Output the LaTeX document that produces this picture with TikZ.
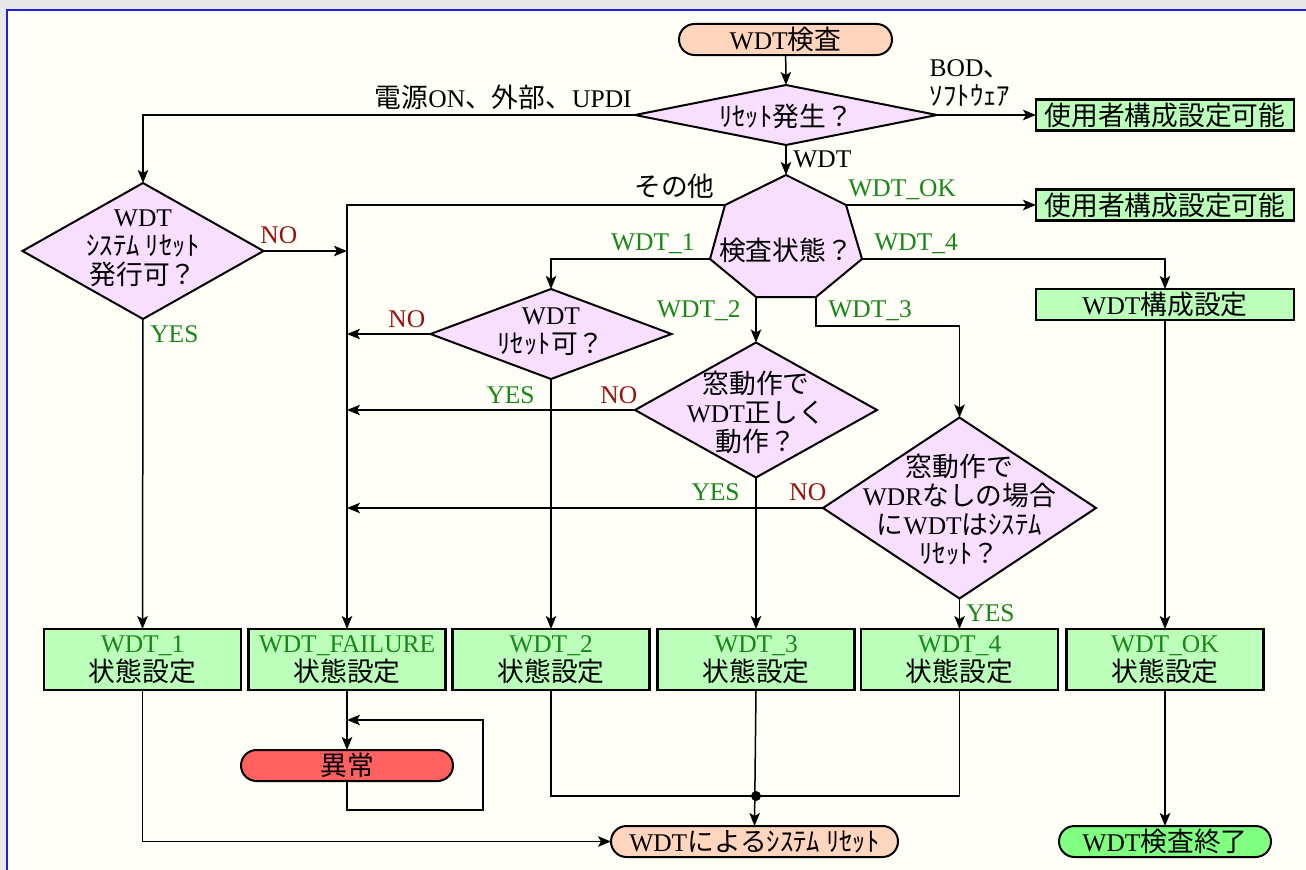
\documentclass[tikz,border=0pt]{standalone}
\usepackage{fontspec}
\setmainfont{Liberation Serif}
\newfontfamily\jf[Scale=1.05]{Noto Sans CJK JP}
\newcommand\J[1]{{\jf #1}}
\usetikzlibrary{arrows.meta,shapes.geometric}
\definecolor{pagegrey}{RGB}{232,232,232}
\definecolor{ivory}{RGB}{255,255,247}
\definecolor{frameblue}{RGB}{30,30,230}
\definecolor{decf}{RGB}{248,222,255}
\definecolor{boxg}{RGB}{187,255,187}
\definecolor{peach}{RGB}{255,213,190}
\definecolor{endg}{RGB}{128,255,128}
\definecolor{abnr}{RGB}{255,96,96}
\definecolor{lgreen}{RGB}{25,135,25}
\definecolor{lred}{RGB}{150,20,20}
\tikzset{
  every node/.style={font=\fontsize{14.5}{16.5}\selectfont},
  term/.style={rectangle, rounded corners=3.1mm, draw, line width=0.4mm, minimum height=6.2mm, inner sep=0pt, outer sep=0pt},
  pbox/.style={rectangle, draw, line width=0.55mm, fill=boxg, inner sep=0pt, outer sep=0pt, align=center},
  dec/.style={diamond, draw, line width=0.4mm, fill=decf, inner sep=0pt, outer sep=0pt},
  txt/.style={align=center, inner sep=0pt},
  arr/.style={-{Stealth[length=2.6mm,width=2.1mm,inset=0.6mm]}, line width=0.3mm},
  ln/.style={line width=0.3mm},
  lg/.style={text=lgreen, inner sep=0pt},
  lr/.style={text=lred, inner sep=0pt},
  lb/.style={inner sep=0pt},
}
\begin{document}
\begin{tikzpicture}[x=0.2mm,y=-0.2mm]
\useasboundingbox (0,0) rectangle (1306,870);
\clip (0,0) rectangle (1306,870);
\fill[pagegrey] (0,0) rectangle (1306,870);
\fill[ivory] (7,10) rectangle (1320,880);
\draw[frameblue, line width=0.4mm] (7,885) -- (7,10) -- (1320,10);

% terminals
\node[term, fill=peach, minimum width=42.6mm] (start) at (785.5,39.5) {WDT\J{検査}};
\node[term, fill=peach, minimum width=57.4mm] (rst) at (754.5,841.5) {WDT\J{によるｼｽﾃﾑ ﾘｾｯﾄ}};
\node[term, fill=endg, minimum width=42.4mm] (fin) at (1165,841.5) {WDT\J{検査終了}};
\node[term, fill=abnr, minimum width=42.4mm] (abn) at (347,765.5) {\J{異常}};

% decisions
\node[dec, minimum width=60.4mm, minimum height=12mm] (d0) at (786,115) {};
\node[txt] (d0t) at (786,116) {\J{ﾘｾｯﾄ発生？}};
\node[dec, minimum width=48.2mm, minimum height=27.2mm] (dL) at (143,251) {};
\node[txt] (dLt) at (143,248) {WDT\\\J{ｼｽﾃﾑ ﾘｾｯﾄ}\\\J{発行可？}};
\node[dec, minimum width=48.2mm, minimum height=18mm] (d1) at (551,334) {};
\node[txt] (d1t) at (551,332) {WDT\\\J{ﾘｾｯﾄ可？}};
\node[dec, minimum width=48.4mm, minimum height=27mm] (d2) at (756,410) {};
\node[txt] (d2t) at (756,412) {\J{窓動作で}\\WDT\J{正しく}\\\J{動作？}};
\node[dec, minimum width=54.6mm, minimum height=36.2mm] (d3) at (959.5,508) {};
\node[txt] (d3t) at (959.5,510) {\J{窓動作で}\\WDR\J{なしの場合}\\\J{に}WDT\J{はｼｽﾃﾑ}\\\J{ﾘｾｯﾄ？}};

% heptagon
\coordinate (hT) at (786,175);
\coordinate (hUR) at (846,205);
\coordinate (hR) at (862,259);
\coordinate (hBR) at (816,297);
\coordinate (hBL) at (756,297);
\coordinate (hL) at (710,259);
\coordinate (hUL) at (725,205);
\draw[line width=0.4mm, fill=decf] (hT)--(hUR)--(hR)--(hBR)--(hBL)--(hL)--(hUL)--cycle;
\node[txt] (hept) at (786,250) {\J{検査状態？}};

% process boxes
\node[pbox, minimum width=51.6mm, minimum height=6.2mm] (u1) at (1165,115) {\J{使用者構成設定可能}};
\node[pbox, minimum width=51.6mm, minimum height=6.2mm] (u2) at (1165,205) {\J{使用者構成設定可能}};
\node[pbox, minimum width=51.6mm, minimum height=6.2mm] (cfg) at (1165,304.5) {WDT\J{構成設定}};
\node[pbox, minimum width=39.4mm, minimum height=12.2mm] (s1) at (142.5,659.5) {\textcolor{lgreen}{WDT\_1}\\\J{状態設定}};
\node[pbox, minimum width=39.4mm, minimum height=12.2mm] (fail) at (347,659.5) {\textcolor{lgreen}{WDT\_FAILURE}\\\J{状態設定}};
\node[pbox, minimum width=39.4mm, minimum height=12.2mm] (s2) at (551,659.5) {\textcolor{lgreen}{WDT\_2}\\\J{状態設定}};
\node[pbox, minimum width=39.4mm, minimum height=12.2mm] (s3) at (756,659.5) {\textcolor{lgreen}{WDT\_3}\\\J{状態設定}};
\node[pbox, minimum width=39.4mm, minimum height=12.2mm] (s4) at (959.5,659.5) {\textcolor{lgreen}{WDT\_4}\\\J{状態設定}};
\node[pbox, minimum width=39.4mm, minimum height=12.2mm] (sok) at (1165,659.5) {\textcolor{lgreen}{WDT\_OK}\\\J{状態設定}};

% connectors
\draw[arr] (start) -- (d0.north);
\draw[arr] (d0.west) -| (dL.north);
\draw[arr] (d0.east) -- (u1.west);
\draw[arr] (d0.south) -- (hT);
\draw[arr] (hUL) -| (fail.north);
\draw[arr] (hUR) -- (u2.west);
\draw[arr] (hR) -| (cfg.north);
\draw[arr] (hL) -| (d1.north);
\draw[arr] (hBL) -- (d2.north);
\draw[arr] (hBR) -- ++(0,29) -| (d3.north);
\draw[arr] (dL.east) -- (dL.east -| fail.north);
\draw[arr] (dL.south) -- (s1.north);
\draw[arr] (d1.west) -- (d1.west -| fail.north);
\draw[arr] (d1.south) -- (s2.north);
\draw[arr] (d2.west) -- (d2.west -| fail.north);
\draw[arr] (d2.south) -- (s3.north);
\draw[arr] (d3.west) -- (d3.west -| fail.north);
\draw[arr] (d3.south) -- (s4.north);
\draw[arr] (cfg.south) -- (sok.north);
\draw[arr] (sok.south) -- (fin.north);
\draw[arr] (fail.south) -- (abn.north);
\coordinate (lpA) at (483,810);
\coordinate (lpB) at (483,720);
\draw[arr] (abn.south) |- (lpA) -- (lpB) -- (lpB -| abn.north);
\draw[arr] (s1.south) |- (rst.west);
\coordinate (jn) at (756,796);
\draw[ln] (s2.south) |- (jn);
\draw[ln] (s4.south) |- (jn);
\draw[arr] (s3.south) -- (rst.north);
\fill (jn) circle[radius=1mm];

% labels
\node[lb, anchor=base east] (l1) at (632,107) {\J{電源}ON\J{、外部、}UPDI};
\node[lb, anchor=base, align=center] (l2) at (970,105) {BOD\J{、}\\\J{ｿﾌﾄｳｪｱ}};
\node[lb, anchor=base west] (l3) at (793,167) {WDT};
\node[lb, anchor=base east] (l4) at (715,196) {\J{その他}};
\node[lg, anchor=base west] (l5) at (848,196) {WDT\_OK};
\node[lg, anchor=base east] (l6) at (695,250) {WDT\_1};
\node[lg, anchor=base west] (l7) at (874,250) {WDT\_4};
\node[lg, anchor=base east] (l8) at (741,317) {WDT\_2};
\node[lg, anchor=base west] (l9) at (828,317) {WDT\_3};
\node[lr, anchor=base west] (l10) at (260,243) {NO};
\node[lg, anchor=base west] (l11) at (150,342) {YES};
\node[lr, anchor=base west] (l12) at (388,327) {NO};
\node[lg, anchor=base east] (l13) at (535,403) {YES};
\node[lr, anchor=base west] (l14) at (600,403) {NO};
\node[lg, anchor=base east] (l15) at (740,500) {YES};
\node[lr, anchor=base west] (l16) at (789,500) {NO};
\node[lg, anchor=base west] (l17) at (966,621) {YES};
\end{tikzpicture}
\end{document}
